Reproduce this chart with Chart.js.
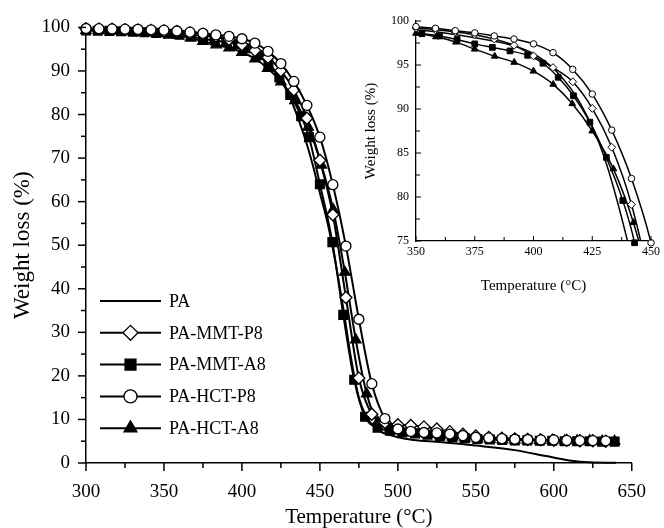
<!DOCTYPE html>
<html>
<head>
<meta charset="utf-8">
<script src="https://cdn.jsdelivr.net/npm/chart.js@4.4.1/dist/chart.umd.min.js"></script>
<style>
  html, body { margin: 0; padding: 0; background: #fff; }
  #wrap { position: relative; width: 664px; height: 528px; background: #fff; }
  #main { position: absolute; left: 0; top: 0; }
  #inset { position: absolute; left: 340px; top: 0; }
</style>
</head>
<body>
<div id="wrap">
  <canvas id="main" width="664" height="528"></canvas>
  <canvas id="inset" width="324" height="300"></canvas>
</div>
<script>
// TGA curves (temperature in °C, weight in %)
const seriesNames = ['PA', 'PA-MMT-P8', 'PA-MMT-A8', 'PA-HCT-P8', 'PA-HCT-A8'];

const paTemp = [300, 325, 350, 375, 390, 400, 410, 420, 430, 440, 445, 450, 455, 460, 465, 470, 475, 480, 485, 490,
  495, 500, 510, 527, 550, 576, 595, 610, 623, 640];
const paWeight = [99.5, 99.3, 99.0, 98.1, 97.3, 96.3, 94.2, 90.6, 84.6, 75.0, 69.0, 62.0, 55.0, 46.0, 35.5, 24.0, 15.0, 10.5, 8.3, 7.0,
  6.4, 5.9, 5.3, 4.8, 4.0, 2.9, 1.6, 0.6, 0.15, 0.05];

const p8Temp = [300, 308.3, 316.7, 325, 333.3, 341.7, 350, 358.3, 366.7, 375, 383.3, 391.7, 400, 408.3, 416.7, 425, 433.3, 441.7,
  450, 458.3, 466.7, 475, 483.3, 491.7, 500, 508.3, 516.7, 525, 533.3, 541.7, 550, 558.3, 566.7, 575, 583.3, 591.7, 600,
  608.3, 616.7, 625, 633.3];
const mmtP8Weight = [99.7, 99.65, 99.6, 99.5, 99.4, 99.3, 99.2, 99.0, 98.75, 98.45, 97.95, 97.24, 96.03, 94.71, 93.09, 90.07, 85.65, 79.15,
  69.5, 57.0, 38.0, 19.5, 11.2, 9.3, 8.8, 8.6, 8.3, 7.8, 7.2, 6.6, 6.2, 5.9, 5.7, 5.5, 5.4, 5.3, 5.2, 5.2, 5.1, 5.1, 5.0];
const hctP8Weight = [99.75, 99.7, 99.65, 99.6, 99.55, 99.45, 99.36, 99.17, 98.9, 98.65, 98.3, 97.95, 97.4, 96.4, 94.5, 91.7, 87.6, 82.1,
  74.8, 63.9, 49.8, 33.0, 18.2, 10.2, 7.8, 7.25, 7.0, 6.9, 6.65, 6.3, 5.9, 5.75, 5.6, 5.45, 5.4, 5.3, 5.3, 5.2, 5.15, 5.15, 5.1];

const mmtA8Temp = [300, 307.5, 315, 322.5, 330, 337.5, 345, 352.5, 360, 367.5, 375, 382.5, 390, 397.5, 404, 410.5, 417, 424, 431, 438, 443,
  450, 458, 465, 472, 479, 487, 495, 503, 511, 519, 527, 535, 543, 551, 559, 567, 575, 583, 591, 599, 607, 615, 623, 631, 639];
const mmtA8Weight = [99.3, 99.25, 99.2, 99.1, 99.0, 98.9, 98.75, 98.55, 98.3, 97.9, 97.4, 97.0, 96.6, 96.1, 95.2, 93.6, 91.5, 88.5, 84.5, 79.6, 74.8,
  64.0, 50.7, 34.0, 19.1, 10.6, 8.1, 7.4, 7.0, 6.8, 6.5, 6.2, 5.9, 5.7, 5.5, 5.4, 5.3, 5.2, 5.2, 5.1, 5.1, 5.0, 5.0, 5.0, 4.9, 4.9];

const hctA8Temp = [300, 308.5, 317, 325, 333.5, 342, 350, 358.5, 367, 375, 383.5, 391.8, 400, 408.4, 416.5, 425, 434, 442.5,
  451, 458.5, 466, 473, 480, 487, 495, 503, 511, 519, 527, 535, 543, 551, 559, 567, 575, 583, 591, 599, 607, 615, 623, 631, 639];
const hctA8Weight = [99.3, 99.25, 99.15, 99.05, 98.95, 98.8, 98.6, 98.2, 97.6, 96.8, 96.0, 95.3, 94.3, 92.8, 90.6, 87.5, 83.2, 77.1,
  68.4, 58.2, 43.8, 28.3, 15.9, 9.4, 7.8, 7.2, 6.9, 6.6, 6.3, 6.0, 5.8, 5.6, 5.5, 5.4, 5.3, 5.3, 5.2, 5.2, 5.1, 5.1, 5.1, 5.0, 5.0];

const mainXTicks = [300, 350, 400, 450, 500, 550, 600, 650];
const mainYTicks = [0, 10, 20, 30, 40, 50, 60, 70, 80, 90, 100];
const insetXTicks = [350, 375, 400, 425, 450];
const insetYTicks = [75, 80, 85, 90, 95, 100];

const SERIF = '"Liberation Serif", "Times New Roman", serif';

function pts(t, w) {
  return t.map((x, i) => ({ x: x, y: w[i] }));
}

// marker look per series, same order as seriesNames
const looks = [
  { data: pts(paTemp, paWeight), style: false, fill: '#000', r: 0, order: 4 },
  { data: pts(p8Temp, mmtP8Weight), style: 'rectRot', fill: '#fff', r: 6, order: 1 },
  { data: pts(mmtA8Temp, mmtA8Weight), style: 'rect', fill: '#000', r: 6.2, order: 3 },
  { data: pts(p8Temp, hctP8Weight), style: 'circle', fill: '#fff', r: 5, order: 0 },
  { data: pts(hctA8Temp, hctA8Weight), style: 'triangle', fill: '#000', r: 6, order: 2 }
];

// tick marks drawn by hand so minor ticks can be shorter
const tickMarks = {
  id: 'tickMarks',
  afterDraw(chart, args, o) {
    const ctx = chart.ctx;
    const area = chart.chartArea;
    ctx.save();
    ctx.strokeStyle = '#000';
    ctx.lineWidth = o.width;
    ['x', 'y'].forEach(id => {
      const scale = chart.scales[id];
      const vals = scale.ticks.map(t => t.value);
      const marks = [];
      vals.forEach((v, i) => {
        marks.push([v, o.major]);
        if (i < vals.length - 1) marks.push([(v + vals[i + 1]) / 2, o.minor]);
      });
      marks.forEach(([v, len]) => {
        const p = scale.getPixelForValue(v);
        ctx.beginPath();
        if (id === 'x') {
          ctx.moveTo(p, area.bottom);
          ctx.lineTo(p, area.bottom + o.dir * len);
        } else {
          ctx.moveTo(area.left, p);
          ctx.lineTo(area.left - o.dir * len, p);
        }
        ctx.stroke();
      });
    });
    ctx.restore();
  }
};

const lineLegend = {
  id: 'lineLegend',
  afterDraw(chart, args, o) {
    if (!o.show) return;
    const ctx = chart.ctx;
    chart.data.datasets.forEach((ds, i) => {
      const y = o.top + i * o.gap;
      ctx.save();
      ctx.strokeStyle = '#000';
      ctx.lineWidth = 2;
      ctx.beginPath();
      ctx.moveTo(o.x0, y);
      ctx.lineTo(o.x1, y);
      ctx.stroke();
      if (ds.pointStyle) {
        ctx.fillStyle = ds.pointBackgroundColor;
        ctx.lineWidth = 1.3;
        Chart.helpers.drawPoint(ctx, { pointStyle: ds.pointStyle, radius: ds.pointRadius + 1.5, borderWidth: 1.3, rotation: 0 }, (o.x0 + o.x1) / 2, y);
      }
      ctx.fillStyle = '#000';
      ctx.font = o.font;
      ctx.textBaseline = 'middle';
      ctx.fillText(ds.label, o.textX, y + 1);
      ctx.restore();
    });
  }
};

Chart.register(tickMarks, lineLegend);

function mainDatasets() {
  return looks.map((lk, i) => ({
    label: seriesNames[i],
    data: lk.data,
    borderColor: '#000',
    borderWidth: 2,
    cubicInterpolationMode: 'monotone',
    pointStyle: lk.style,
    pointRadius: lk.r,
    pointBackgroundColor: lk.fill,
    pointBorderColor: '#000',
    pointBorderWidth: 1.3,
    order: lk.order,
    clip: false
  }));
}

new Chart(document.getElementById('main'), {
  type: 'line',
  data: { datasets: mainDatasets() },
  options: {
    responsive: false,
    animation: false,
    events: [],
    layout: { padding: { top: 17, right: 32, left: 0, bottom: 0 } },
    plugins: {
      legend: { display: false },
      tooltip: { enabled: false },
      tickMarks: { width: 1.5, major: 8, minor: 5, dir: 1 },
      lineLegend: { show: true, x0: 100, x1: 161, textX: 169, top: 301, gap: 31.8, font: '18px ' + SERIF }
    },
    scales: {
      x: {
        type: 'linear', min: 300, max: 650,
        afterBuildTicks: s => { s.ticks = mainXTicks.map(v => ({ value: v })); },
        afterFit: s => { s.height = 65; },
        grid: { display: false, drawTicks: false },
        border: { color: '#000', width: 1.5 },
        ticks: { color: '#000', font: { family: SERIF, size: 19 }, padding: 18, maxRotation: 0 },
        title: { display: true, text: 'Temperature (°C)', color: '#000', font: { family: SERIF, size: 21 }, padding: { top: 0, bottom: -2 } }
      },
      y: {
        type: 'linear', min: 0, max: 100,
        afterBuildTicks: s => { s.ticks = mainYTicks.map(v => ({ value: v })); },
        afterFit: s => { s.width = 86; },
        grid: { display: false, drawTicks: false },
        border: { color: '#000', width: 1.5 },
        ticks: { color: '#000', font: { family: SERIF, size: 19 }, padding: 16 },
        title: { display: true, text: 'Weight loss (%)', color: '#000', font: { family: SERIF, size: 23 }, padding: { top: 9, bottom: 0 } }
      }
    }
  }
});

// inset: clipped lines plus unclipped markers so edge markers stay whole
const insetSets = [];
looks.forEach((lk, i) => {
  insetSets.push({
    label: seriesNames[i],
    data: lk.data,
    borderColor: '#000',
    borderWidth: 1.5,
    cubicInterpolationMode: 'monotone',
    pointRadius: 0,
    order: lk.order + 10
  });
  if (lk.style) {
    insetSets.push({
      label: seriesNames[i] + ' markers',
      data: lk.data,
      showLine: false,
      pointStyle: lk.style,
      pointRadius: lk.r * 0.65,
      pointBackgroundColor: lk.fill,
      pointBorderColor: '#000',
      pointBorderWidth: 1,
      order: lk.order,
      clip: false
    });
  }
});

new Chart(document.getElementById('inset'), {
  type: 'line',
  data: { datasets: insetSets },
  options: {
    responsive: false,
    animation: false,
    events: [],
    layout: { padding: { top: 21, right: 11, left: 0, bottom: 0 } },
    plugins: {
      legend: { display: false },
      tooltip: { enabled: false },
      tickMarks: { width: 1, major: 5, minor: 4, dir: -1 },
      lineLegend: { show: false }
    },
    scales: {
      x: {
        type: 'linear', min: 350, max: 450,
        afterBuildTicks: s => { s.ticks = insetXTicks.map(v => ({ value: v })); },
        afterFit: s => { s.height = 59; },
        grid: { display: false, drawTicks: false },
        border: { color: '#000', width: 1.3 },
        ticks: { color: '#000', font: { family: SERIF, size: 12 }, padding: 4, maxRotation: 0 },
        title: { display: true, text: 'Temperature (°C)', color: '#000', font: { family: SERIF, size: 15 }, padding: { top: 0, bottom: 5 } }
      },
      y: {
        type: 'linear', min: 75, max: 100,
        afterBuildTicks: s => { s.ticks = insetYTicks.map(v => ({ value: v })); },
        afterFit: s => { s.width = 76; },
        grid: { display: false, drawTicks: false },
        border: { color: '#000', width: 1.3 },
        ticks: { color: '#000', font: { family: SERIF, size: 12 }, padding: 7 },
        title: { display: true, text: 'Weight loss (%)', color: '#000', font: { family: SERIF, size: 15 }, padding: { top: 22, bottom: 0 } }
      }
    }
  }
});
</script>
</body>
</html>
